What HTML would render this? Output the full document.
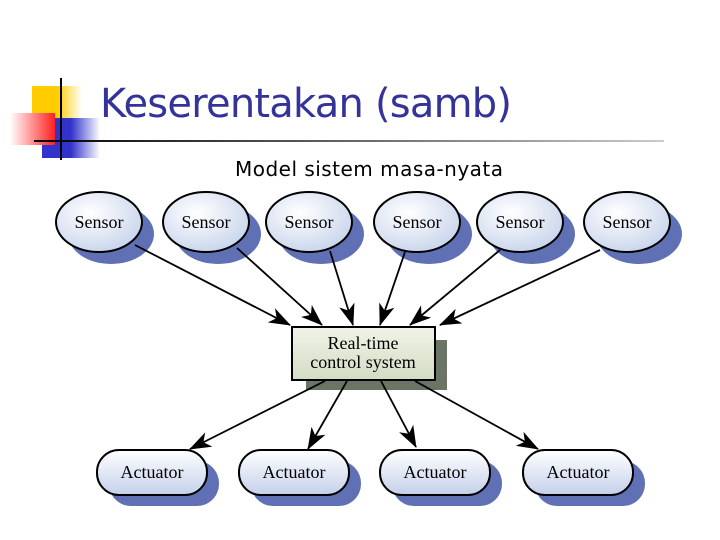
<!DOCTYPE html>
<html><head><meta charset="utf-8"><style>
body{margin:0;width:720px;height:540px;background:#fff;overflow:hidden;position:relative;font-family:"Liberation Sans",sans-serif}
</style></head><body>
<svg width="720" height="540" style="position:absolute;left:0;top:0">
<defs>
<linearGradient id="y" x1="0" x2="1"><stop offset="0.5" stop-color="#ffcc00"/><stop offset="1" stop-color="#fff"/></linearGradient>
<linearGradient id="b" x1="0" x2="1"><stop offset="0.5" stop-color="#3333cc"/><stop offset="1" stop-color="#fff"/></linearGradient>
<linearGradient id="r" x1="1" x2="0"><stop offset="0" stop-color="#ff2020"/><stop offset="1" stop-color="#fff"/></linearGradient>
<linearGradient id="l" x1="0" x2="1"><stop offset="0" stop-color="#000"/><stop offset="1" stop-color="#ccc"/></linearGradient>
<radialGradient id="e" cx="0.4" cy="0.35" r="0.7"><stop offset="0" stop-color="#fff"/><stop offset="1" stop-color="#c8d4ec"/></radialGradient>
<linearGradient id="a" x1="0" y1="0" x2="0" y2="1"><stop offset="0" stop-color="#fff"/><stop offset="1" stop-color="#c4d0ea"/></linearGradient>
<linearGradient id="g" x1="0" y1="0" x2="0" y2="1"><stop offset="0" stop-color="#f0f4e8"/><stop offset="1" stop-color="#d4dcc4"/></linearGradient>
<marker id="m" markerWidth="22" markerHeight="16" refX="21" refY="8" orient="auto" markerUnits="userSpaceOnUse" viewBox="0 0 22 16"><path d="M0,0 L22,8 L0,16 L6,8z" fill="#000"/></marker>
</defs>
<rect x="32" y="86" width="50" height="40" fill="url(#y)"/>
<rect x="42" y="118" width="58" height="40" fill="url(#b)"/>
<rect x="10" y="113" width="45" height="32" fill="url(#r)"/>
<rect x="60" y="78" width="2" height="82" fill="#000"/>
<rect x="34" y="140" width="630" height="2" fill="url(#l)"/>
<text x="100" y="117" font-size="40" fill="#333399" font-family="DejaVu Sans,sans-serif" textLength="412">Keserentakan (samb)</text>
<text x="235" y="176" font-size="20" fill="#000" font-family="DejaVu Sans,sans-serif" textLength="268">Model sistem masa-nyata</text>
<g font-family="Liberation Serif,serif" font-size="18" text-anchor="middle">
<g fill="#6070b4">
<ellipse cx="111" cy="234" rx="43" ry="30"/><ellipse cx="218" cy="234" rx="43" ry="30"/><ellipse cx="321" cy="234" rx="43" ry="30"/><ellipse cx="429" cy="234" rx="43" ry="30"/><ellipse cx="532" cy="234" rx="43" ry="30"/><ellipse cx="639" cy="234" rx="43" ry="30"/>
<rect x="109" y="461" width="110" height="45" rx="22"/><rect x="251" y="461" width="110" height="45" rx="22"/><rect x="392" y="461" width="110" height="45" rx="22"/><rect x="535" y="461" width="110" height="45" rx="22"/>
</g>
<rect x="306" y="340" width="141" height="50" fill="#6b7565"/>
<g fill="url(#e)" stroke="#000" stroke-width="2">
<ellipse cx="99" cy="222" rx="43" ry="30"/><ellipse cx="206" cy="222" rx="43" ry="30"/><ellipse cx="309" cy="222" rx="43" ry="30"/><ellipse cx="417" cy="222" rx="43" ry="30"/><ellipse cx="520" cy="222" rx="43" ry="30"/><ellipse cx="627" cy="222" rx="43" ry="30"/>
</g>
<g fill="url(#a)" stroke="#000" stroke-width="2">
<rect x="97" y="450" width="110" height="45" rx="22"/><rect x="239" y="450" width="110" height="45" rx="22"/><rect x="380" y="450" width="110" height="45" rx="22"/><rect x="523" y="450" width="110" height="45" rx="22"/>
</g>
<rect x="292" y="327" width="143" height="53" fill="url(#g)" stroke="#000" stroke-width="2"/>
<g stroke="#000" stroke-width="1.8" marker-end="url(#m)">
<line x1="135" y1="245" x2="290" y2="325"/><line x1="237" y1="248" x2="322" y2="325"/><line x1="330" y1="251" x2="353" y2="325"/><line x1="405" y1="252" x2="380" y2="325"/><line x1="500" y1="250" x2="410" y2="325"/><line x1="600" y1="250" x2="440" y2="325"/>
<line x1="325" y1="381" x2="190" y2="449"/><line x1="347" y1="381" x2="308" y2="449"/><line x1="381" y1="381" x2="416" y2="447"/><line x1="415" y1="381" x2="538" y2="449"/>
</g>
<g fill="#000">
<text x="99" y="228">Sensor</text><text x="206" y="228">Sensor</text><text x="309" y="228">Sensor</text><text x="417" y="228">Sensor</text><text x="520" y="228">Sensor</text><text x="627" y="228">Sensor</text>
<text x="152" y="478">Actuator</text><text x="294" y="478">Actuator</text><text x="435" y="478">Actuator</text><text x="578" y="478">Actuator</text>
<text x="363" y="349">Real-time</text><text x="363" y="368">control system</text>
</g>
</g>
</svg>
</body></html>
